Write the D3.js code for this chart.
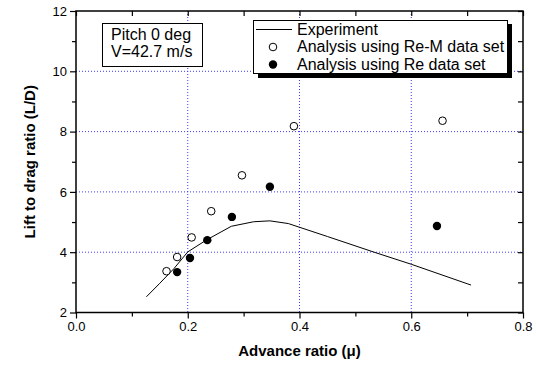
<!DOCTYPE html>
<html>
<head>
<meta charset="utf-8">
<script src="https://cdn.jsdelivr.net/npm/d3@7"></script>
<style>
	body { margin: 0; background: #fff; }
	svg { display: block; font-family: Arial, "Liberation Sans", sans-serif; }
</style>
</head>
<body>
<div id="chart"></div>
<script>

// experiment curve
var expMu = [0.126, 0.15, 0.175, 0.2, 0.233, 0.278, 0.318, 0.347, 0.38, 0.45, 0.532, 0.6, 0.707];
var expLD = [2.52, 2.97, 3.45, 4.01, 4.40, 4.86, 5.01, 5.04, 4.95, 4.52, 4.01, 3.60, 2.91];

// analysis, Re-M data set (open)
var remMu = [0.162, 0.181, 0.207, 0.242, 0.297, 0.390, 0.656];
var remLD = [3.37, 3.84, 4.49, 5.36, 6.55, 8.18, 8.36];

// analysis, Re data set (filled)
var reMu = [0.181, 0.204, 0.235, 0.279, 0.347, 0.646];
var reLD = [3.34, 3.81, 4.40, 5.17, 6.17, 4.87];

var xMajor = [0.0, 0.2, 0.4, 0.6, 0.8];
var xMinor = [0.1, 0.3, 0.5, 0.7];
var yMajor = [2, 4, 6, 8, 10, 12];
var yMinor = [3, 5, 7, 9, 11];
var xGrid = [0.2, 0.4, 0.6];
var yGrid = [4, 6, 8, 10];

var legendLabels = ['Experiment', 'Analysis using Re-M data set', 'Analysis using Re data set'];
var noteLines = ['Pitch 0 deg', 'V=42.7 m/s'];

var W = 536, H = 366;
var pLeft = 76, pRight = 523, pTop = 11, pBottom = 312.5;

var svg = d3.select('#chart').append('svg')
	.attr('width', W)
	.attr('height', H);

var x = d3.scaleLinear().domain([0, 0.8]).range([pLeft, pRight]);
var y = d3.scaleLinear().domain([2, 12]).range([pBottom, pTop]);

var plot = svg.append('g');

// grid
plot.selectAll('.gx').data(xGrid).enter().append('line')
	.attr('x1', function(d) { return x(d); })
	.attr('x2', function(d) { return x(d); })
	.attr('y1', pTop)
	.attr('y2', pBottom)
	.style('stroke', '#3a3aff')
	.style('stroke-width', 1)
	.style('stroke-dasharray', '1,2');

plot.selectAll('.gy').data(yGrid).enter().append('line')
	.attr('x1', pLeft)
	.attr('x2', pRight)
	.attr('y1', function(d) { return y(d); })
	.attr('y2', function(d) { return y(d); })
	.style('stroke', '#3a3aff')
	.style('stroke-width', 1)
	.style('stroke-dasharray', '1,2');

// axes
function styleAxis(g) {
	g.select('.domain').remove();
	g.selectAll('line').style('stroke', '#000').style('stroke-width', 1.2);
	g.selectAll('text').style('font-size', '13px').style('fill', '#000')
		.style('font-family', 'Arial, "Liberation Sans", sans-serif');
}

svg.append('g')
	.attr('transform', 'translate(0,' + pBottom + ')')
	.call(d3.axisBottom(x).tickValues(xMajor).tickSize(6).tickPadding(3).tickFormat(d3.format('.1f')))
	.call(styleAxis);
svg.append('g')
	.attr('transform', 'translate(0,' + pBottom + ')')
	.call(d3.axisBottom(x).tickValues(xMinor).tickSize(4).tickFormat(''))
	.call(styleAxis);

svg.append('g')
	.attr('transform', 'translate(' + pLeft + ',0)')
	.call(d3.axisLeft(y).tickValues(yMajor).tickSize(6).tickPadding(3).tickFormat(d3.format('d')))
	.call(styleAxis);
svg.append('g')
	.attr('transform', 'translate(' + pLeft + ',0)')
	.call(d3.axisLeft(y).tickValues(yMinor).tickSize(4).tickFormat(''))
	.call(styleAxis);

// mirror ticks, pointing in
svg.append('g')
	.attr('transform', 'translate(0,' + pTop + ')')
	.call(d3.axisBottom(x).tickValues(xMajor.concat(xMinor)).tickSize(5).tickFormat(''))
	.call(styleAxis);
svg.append('g')
	.attr('transform', 'translate(' + pRight + ',0)')
	.call(d3.axisLeft(y).tickValues(yMajor.concat(yMinor)).tickSize(5).tickFormat(''))
	.call(styleAxis);

// frame
svg.append('rect')
	.attr('x', pLeft)
	.attr('y', pTop)
	.attr('width', pRight - pLeft)
	.attr('height', pBottom - pTop)
	.style('fill', 'none')
	.style('stroke', '#000')
	.style('stroke-width', 1.5);

// experiment line
var line = d3.line()
	.x(function(d) { return x(d[0]); })
	.y(function(d) { return y(d[1]); });

plot.append('path')
	.datum(d3.zip(expMu, expLD))
	.attr('d', line)
	.style('fill', 'none')
	.style('stroke', '#000')
	.style('stroke-width', 1);

plot.selectAll('.rem').data(d3.zip(remMu, remLD)).enter().append('circle')
	.attr('cx', function(d) { return x(d[0]); })
	.attr('cy', function(d) { return y(d[1]); })
	.attr('r', 3.8)
	.style('fill', '#fff')
	.style('stroke', '#000')
	.style('stroke-width', 1);

plot.selectAll('.re').data(d3.zip(reMu, reLD)).enter().append('circle')
	.attr('cx', function(d) { return x(d[0]); })
	.attr('cy', function(d) { return y(d[1]); })
	.attr('r', 4.2)
	.style('fill', '#000');

// note box
var note = svg.append('g');
note.append('rect')
	.attr('x', 102.5)
	.attr('y', 23.5)
	.attr('width', 100)
	.attr('height', 43)
	.style('fill', '#fff')
	.style('stroke', '#000')
	.style('stroke-width', 1);
note.selectAll('text').data(noteLines).enter().append('text')
	.attr('x', 111)
	.attr('y', function(d, i) { return 40 + i * 17; })
	.style('font-size', '16px')
	.text(function(d) { return d; });

// legend
var leg = svg.append('g');
leg.append('rect')
	.attr('x', 258)
	.attr('y', 24)
	.attr('width', 254)
	.attr('height', 54)
	.style('fill', '#000');
leg.append('rect')
	.attr('x', 253.5)
	.attr('y', 20.5)
	.attr('width', 254)
	.attr('height', 53)
	.style('fill', '#fff')
	.style('stroke', '#000')
	.style('stroke-width', 1);
leg.append('line')
	.attr('x1', 256)
	.attr('x2', 292)
	.attr('y1', 29.5)
	.attr('y2', 29.5)
	.style('stroke', '#000')
	.style('stroke-width', 1);
leg.append('circle')
	.attr('cx', 273)
	.attr('cy', 47)
	.attr('r', 3.8)
	.style('fill', '#fff')
	.style('stroke', '#000');
leg.append('circle')
	.attr('cx', 273)
	.attr('cy', 64.5)
	.attr('r', 4.2)
	.style('fill', '#000');
leg.selectAll('text').data(legendLabels).enter().append('text')
	.attr('x', 297)
	.attr('y', function(d, i) { return 34.5 + i * 17.5; })
	.style('font-size', '16px')
	.text(function(d) { return d; });

// axis titles
svg.append('text')
	.attr('x', (pLeft + pRight) / 2)
	.attr('y', 356)
	.attr('text-anchor', 'middle')
	.style('font-size', '15px')
	.style('font-weight', 'bold')
	.text('Advance ratio (\u03bc)');

svg.append('text')
	.attr('transform', 'translate(35,' + (pTop + pBottom) / 2 + ') rotate(-90)')
	.attr('text-anchor', 'middle')
	.style('font-size', '15px')
	.style('font-weight', 'bold')
	.text('Lift to drag ratio (L/D)');

</script>
</body>
</html>
